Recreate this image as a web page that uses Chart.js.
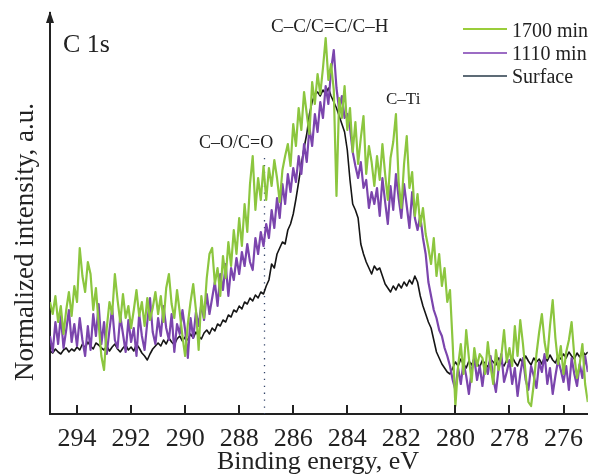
<!DOCTYPE html>
<html><head><meta charset="utf-8">
<style>html,body{margin:0;padding:0;background:#fff}#wrap{width:593px;height:474px;position:relative}</style>
<script src="https://cdn.jsdelivr.net/npm/chart.js@4.4.1/dist/chart.umd.min.js"></script>
</head><body><div id="wrap"><canvas id="c" width="593" height="474"></canvas></div>
<script>
// Binding energy grid (eV)
const energies = [
295.0,294.9,294.8,294.7,294.6,294.5,294.4,294.3,294.2,294.1,
294.0,293.9,293.8,293.7,293.6,293.5,293.4,293.3,293.2,293.1,
293.0,292.9,292.8,292.7,292.6,292.5,292.4,292.3,292.2,292.1,
292.0,291.9,291.8,291.7,291.6,291.5,291.4,291.3,291.2,291.1,
291.0,290.9,290.8,290.7,290.6,290.5,290.4,290.3,290.2,290.1,
290.0,289.9,289.8,289.7,289.6,289.5,289.4,289.3,289.2,289.1,
289.0,288.9,288.8,288.7,288.6,288.5,288.4,288.3,288.2,288.1,
288.0,287.9,287.8,287.7,287.6,287.5,287.4,287.3,287.2,287.1,
287.0,286.9,286.8,286.7,286.6,286.5,286.4,286.3,286.2,286.1,
286.0,285.9,285.8,285.7,285.6,285.5,285.4,285.3,285.2,285.1,
285.0,284.9,284.8,284.7,284.6,284.5,284.4,284.3,284.2,284.1,
284.0,283.9,283.8,283.7,283.6,283.5,283.4,283.3,283.2,283.1,
283.0,282.9,282.8,282.7,282.6,282.5,282.4,282.3,282.2,282.1,
282.0,281.9,281.8,281.7,281.6,281.5,281.4,281.3,281.2,281.1,
281.0,280.9,280.8,280.7,280.6,280.5,280.4,280.3,280.2,280.1,
280.0,279.9,279.8,279.7,279.6,279.5,279.4,279.3,279.2,279.1,
279.0,278.9,278.8,278.7,278.6,278.5,278.4,278.3,278.2,278.1,
278.0,277.9,277.8,277.7,277.6,277.5,277.4,277.3,277.2,277.1,
277.0,276.9,276.8,276.7,276.6,276.5,276.4,276.3,276.2,276.1,
276.0,275.9,275.8,275.7,275.6,275.5,275.4,275.3,275.2,275.1
];
// Normalized intensity (a.u.)
const surface = [
63,61,65,62,60,64,66,62,65,63,
67,64,70,66,72,68,65,71,69,66,
64,68,63,67,70,65,62,66,69,64,
67,63,70,66,61,58,54,60,65,68,
71,68,74,70,76,72,69,75,78,73,
77,74,80,76,82,78,75,81,84,80,
86,83,90,88,94,92,99,97,104,102,
108,105,112,110,116,113,119,116,122,120,
128,134,150,146,160,166,172,170,184,190,
200,215,232,250,266,280,300,312,320,322,
318,324,320,326,318,312,306,298,290,282,
264,234,210,204,196,170,160,152,146,140,
148,144,146,138,130,126,122,128,124,130,
126,132,128,134,130,138,132,118,108,100,
92,86,74,62,56,50,46,42,40,46,
52,48,55,50,46,53,49,56,51,47,
54,50,47,55,52,49,56,51,48,54,
50,57,52,48,55,51,58,53,49,56,
52,55,50,57,53,59,54,51,58,55,
60,56,62,58,55,61,57,63,59,62
];
const min1110 = [
78,62,92,70,98,66,84,104,72,90,
68,96,74,58,88,64,100,78,110,70,
92,60,84,106,74,66,98,80,62,94,
72,86,58,100,78,64,92,116,82,70,
96,78,108,86,74,100,62,90,80,104,
84,56,96,76,102,88,110,94,120,100,
116,132,108,140,124,150,118,146,134,156,
140,162,148,170,152,144,176,160,182,168,
190,176,204,186,216,196,230,210,240,222,
246,232,258,240,270,252,286,268,300,282,
312,296,328,310,344,364,326,304,318,296,
300,286,262,248,236,252,226,234,206,222,
210,226,198,236,212,190,228,204,240,216,
196,230,208,186,222,196,184,198,176,160,
132,118,104,96,84,78,66,58,48,34,
24,46,30,52,38,20,44,56,34,48,
28,50,40,58,36,22,46,60,32,42,
54,30,46,18,40,56,34,24,48,38,
26,52,42,60,30,46,20,38,54,44,
32,48,24,56,40,28,50,36,58,42
];
const min1700 = [
112,100,118,92,108,80,104,122,98,128,
112,166,138,122,152,140,104,126,90,58,
44,86,112,100,140,114,92,120,96,108,
86,104,124,98,112,88,116,94,106,122,
100,118,92,126,140,110,96,124,102,78,
58,90,112,130,104,64,118,96,136,160,
166,130,146,118,158,136,172,148,184,160,
196,168,210,182,230,258,204,236,214,248,
214,246,228,254,236,212,244,258,270,248,
290,268,306,284,322,300,280,332,310,340,
320,346,376,334,350,324,218,316,296,328,
284,306,262,292,250,276,298,240,268,252,
228,258,234,270,240,214,256,272,300,232,
206,250,278,226,242,198,220,188,206,180,
166,150,176,138,160,128,146,112,124,70,
8,48,70,40,84,56,32,66,48,60,
56,40,72,48,30,64,44,58,84,52,
66,48,88,58,94,70,40,12,8,30,
60,82,100,72,56,88,114,76,50,68,
40,62,74,92,58,36,50,70,30,12
];
const xTicks = [294,292,290,288,286,284,282,280,278,276];
const seriesLabels = ['1700 min','1110 min','Surface'];
const peakNames = ['C–O/C=O','C–C/C=C/C–H','C–Ti'];
const coLineEnergy = 287.1;

const FONT = '"Liberation Serif","Times New Roman",serif';
const lineColors = ['#8cc63f','#7b45ad','#151515'];
const legendColors = ['#9acd3a','#9c6cc4','#5d6b76'];
const seriesData = [min1700, min1110, surface];

function pts(arr){ return energies.map((e,i)=>({x:e,y:arr[i]})); }

const decor = {
  id:'decor',
  beforeDatasetsDraw(chart){
    const {ctx, chartArea:a, scales:{x}} = chart;
    const px = Math.round(x.getPixelForValue(coLineEnergy)) + 0.5;
    ctx.save();
    ctx.strokeStyle = '#34466a'; ctx.lineWidth = 1.3; ctx.setLineDash([1.3,5.6]);
    ctx.beginPath(); ctx.moveTo(px,158); ctx.lineTo(px,a.bottom); ctx.stroke();
    ctx.restore();
  },
  afterDraw(chart){
    const {ctx, chartArea:a, scales:{x}} = chart;
    ctx.save();
    ctx.strokeStyle = '#222'; ctx.lineWidth = 2;
    xTicks.forEach(v=>{
      const p = Math.round(x.getPixelForValue(v));
      ctx.beginPath(); ctx.moveTo(p, a.bottom); ctx.lineTo(p, a.bottom-9); ctx.stroke();
    });
    ctx.fillStyle = '#222';
    ctx.beginPath(); ctx.moveTo(a.left, a.top-2); ctx.lineTo(a.left-4, a.top+10); ctx.lineTo(a.left+4, a.top+10); ctx.closePath(); ctx.fill();
    ctx.fillStyle = '#222'; ctx.textBaseline = 'alphabetic'; ctx.textAlign = 'left';
    ctx.font = '26px ' + FONT; ctx.fillText('C 1s', 63, 52);
    ctx.font = '18px ' + FONT; ctx.fillText(peakNames[0], 199, 148);
    ctx.font = '19px ' + FONT; ctx.fillText(peakNames[1], 271, 32);
    ctx.font = '17px ' + FONT; ctx.fillText(peakNames[2], 386, 104);
    const ly = [29,53,76], tb = [37,60,83];
    seriesLabels.forEach((s,i)=>{
      ctx.strokeStyle = legendColors[i]; ctx.lineWidth = 2;
      ctx.beginPath(); ctx.moveTo(463, ly[i]); ctx.lineTo(507, ly[i]); ctx.stroke();
      ctx.fillStyle = '#222'; ctx.font = '20px ' + FONT; ctx.fillText(s, 512, tb[i]);
    });
    ctx.font = '26px ' + FONT; ctx.textAlign = 'center';
    ctx.fillText('Binding energy, eV', 318, 469);
    ctx.translate(33, 242); ctx.rotate(-Math.PI/2);
    ctx.font = '27px ' + FONT; ctx.fillText('Normalized intensity, a.u.', 0, 0);
    ctx.restore();
  }
};

new Chart(document.getElementById('c'), {
  type:'line',
  data:{ datasets: seriesLabels.map((s,i)=>({
    label:s, data:pts(seriesData[i]), borderColor:lineColors[i],
    borderWidth: i===2 ? 1.6 : 2.2, borderJoinStyle:'round', pointRadius:0, tension:0, fill:false
  })) },
  options:{
    responsive:false, animation:false, devicePixelRatio:1,
    layout:{padding:{top:13,right:0,left:0,bottom:0}},
    plugins:{legend:{display:false}, tooltip:{enabled:false}},
    scales:{
      x:{ type:'linear', reverse:true, min:275.1, max:295,
        afterBuildTicks: s => { s.ticks = xTicks.map(v=>({value:v})); },
        ticks:{ font:{family:FONT, size:26}, color:'#222', padding:10, maxRotation:0, autoSkip:false },
        grid:{ display:false, drawTicks:false }, border:{ display:true, color:'#222', width:2 },
        afterFit: s => { s.height = 60; } },
      y:{ min:0, max:401, ticks:{display:false}, grid:{display:false, drawTicks:false},
        border:{ display:true, color:'#222', width:2 }, afterFit: s => { s.width = 50; } }
    }
  },
  plugins:[decor]
});
</script></body></html>
